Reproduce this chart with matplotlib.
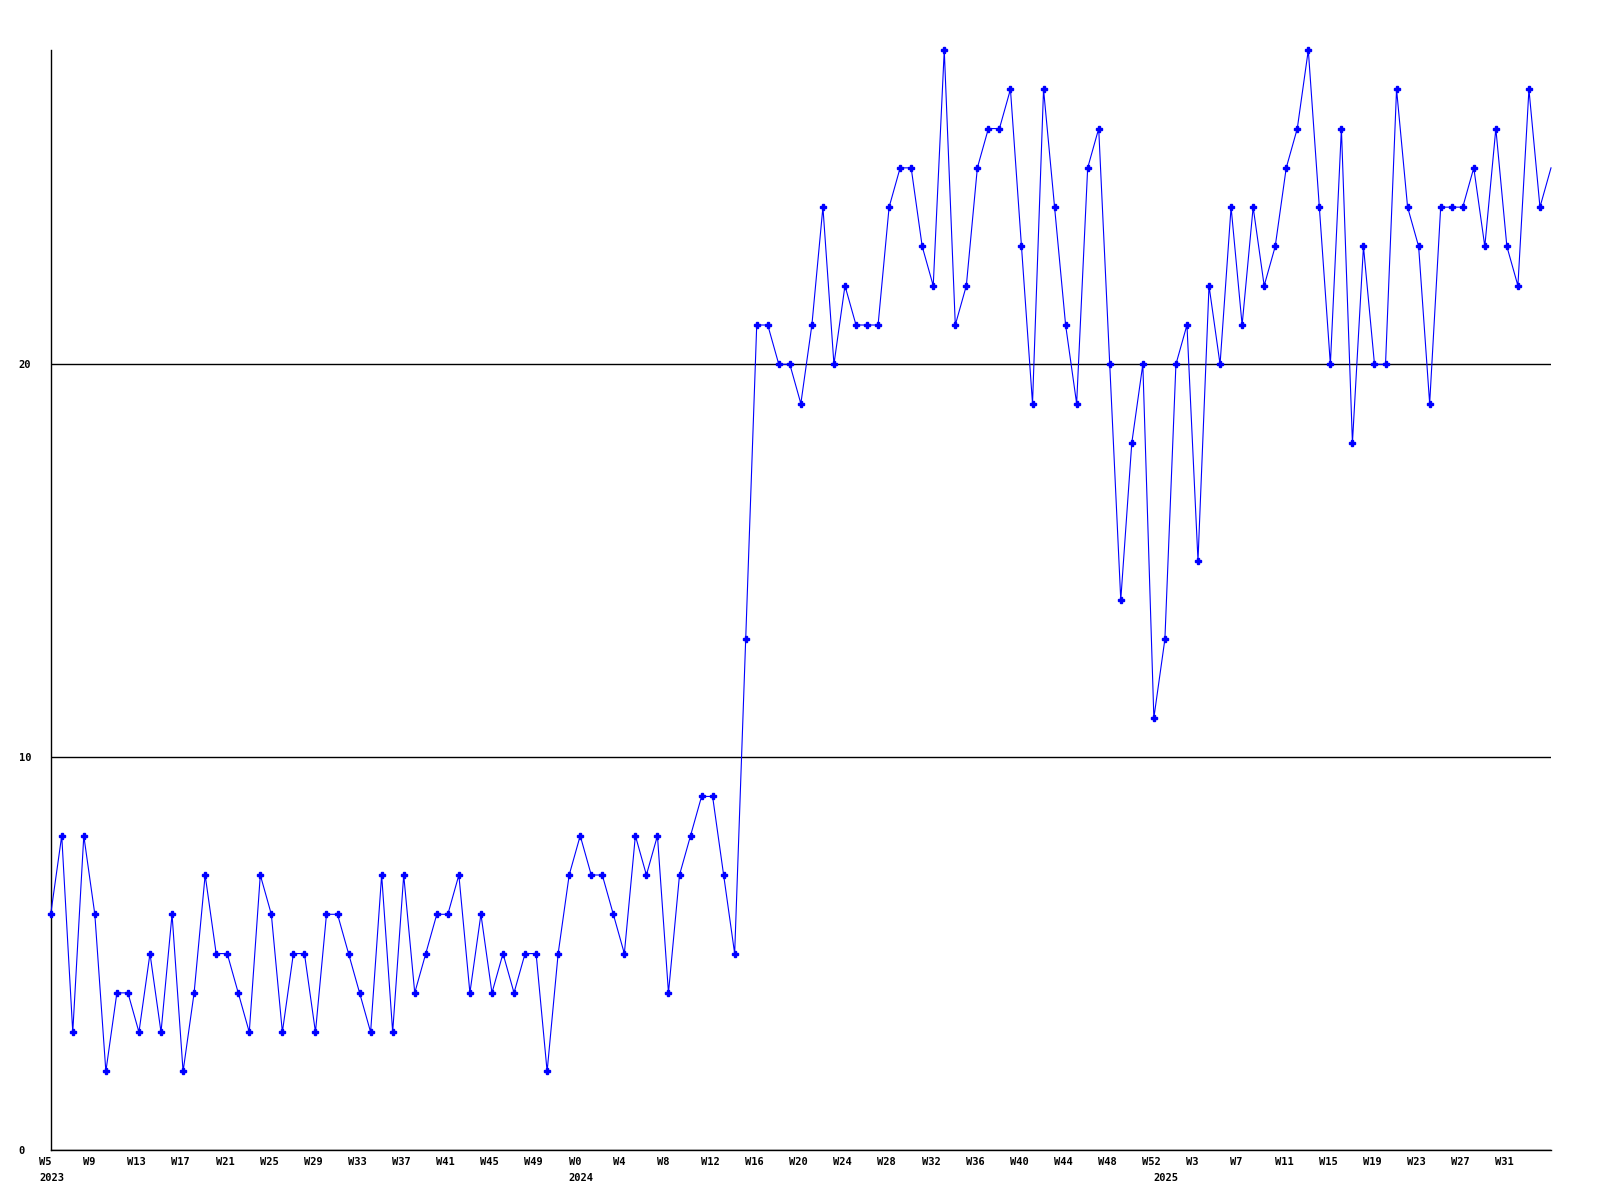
import matplotlib
matplotlib.use("Agg")
import matplotlib.pyplot as plt
import matplotlib.transforms as mtransforms

# weekly counts, 2023 W5 .. 2025 W35
counts = [
    6, 8, 3, 8, 6, 2, 4, 4, 3, 5, 3, 6, 2, 4, 7, 5, 5, 4, 3, 7,
    6, 3, 5, 5, 3, 6, 6, 5, 4, 3, 7, 3, 7, 4, 5, 6, 6, 7, 4, 6,
    4, 5, 4, 5, 5, 2, 5, 7,
    8, 7, 7, 6, 5, 8, 7, 8, 4, 7, 8, 9, 9, 7, 5, 13, 21, 21, 20, 20,
    19, 21, 24, 20, 22, 21, 21, 21, 24, 25, 25, 23, 22, 28, 21, 22, 25, 26, 26, 27,
    23, 19, 27, 24, 21, 19, 25, 26, 20, 14, 18, 20, 11,
    13, 20, 21, 15, 22, 20, 24, 21, 24, 22, 23, 25, 26, 28, 24, 20, 26, 18, 23, 20,
    20, 27, 24, 23, 19, 24, 24, 24, 25, 23, 26, 23, 22, 27, 24, 25,
]

weeks = ([("2023", w) for w in range(5, 53)]
         + [("2024", w) for w in range(0, 53)]
         + [("2025", w) for w in range(0, 36)])

plt.rcParams["font.family"] = "DejaVu Sans Mono"
plt.rcParams["font.weight"] = "bold"
plt.rcParams["font.size"] = 7.5

fig = plt.figure(figsize=(16, 12), dpi=100)
ax = fig.add_axes([50.7 / 1600, 50 / 1200, (1551 - 50.7) / 1600, 1100 / 1200])

x = list(range(len(counts)))
ax.plot(x, counts, color="#0000ff", lw=0.8, marker="P", ms=3.8,
        markevery=list(range(len(counts) - 1)), clip_on=False, zorder=3)

ax.set_xlim(0, len(counts) - 1)
ax.set_ylim(0, 28)

# x labels: every 4th week (last point unlabeled), year under first week of each year
major = list(range(0, len(counts) - 1, 4))
ax.set_xticks(major)
ax.set_xticklabels([f"W{weeks[i][1]}" for i in major])
ax.tick_params(axis="x", length=0, pad=5)

shift = mtransforms.ScaledTranslation(-11.7 / 100, 0, fig.dpi_scale_trans)
for lab in ax.get_xticklabels():
    lab.set_horizontalalignment("left")
    lab.set_transform(lab.get_transform() + shift)

first_of_year = {}
for i, (yr, wk) in enumerate(weeks):
    first_of_year.setdefault(yr, i)
for yr, i in first_of_year.items():
    ax.annotate(yr, xy=(i, 0), xycoords=("data", "axes fraction"),
                xytext=(-8.4, -16.3), textcoords="offset points",
                ha="left", va="top", annotation_clip=False)

ax.set_yticks([0, 10, 20])
ax.tick_params(axis="y", length=0, pad=23)
for lab in ax.get_yticklabels():
    lab.set_horizontalalignment("left")

ax.yaxis.grid(True, color="black", lw=1)
ax.set_axisbelow(True)
ax.spines["top"].set_visible(False)
ax.spines["right"].set_visible(False)
ax.spines["left"].set_linewidth(1)
ax.spines["bottom"].set_linewidth(1)

fig.savefig("out.png", dpi=100)
